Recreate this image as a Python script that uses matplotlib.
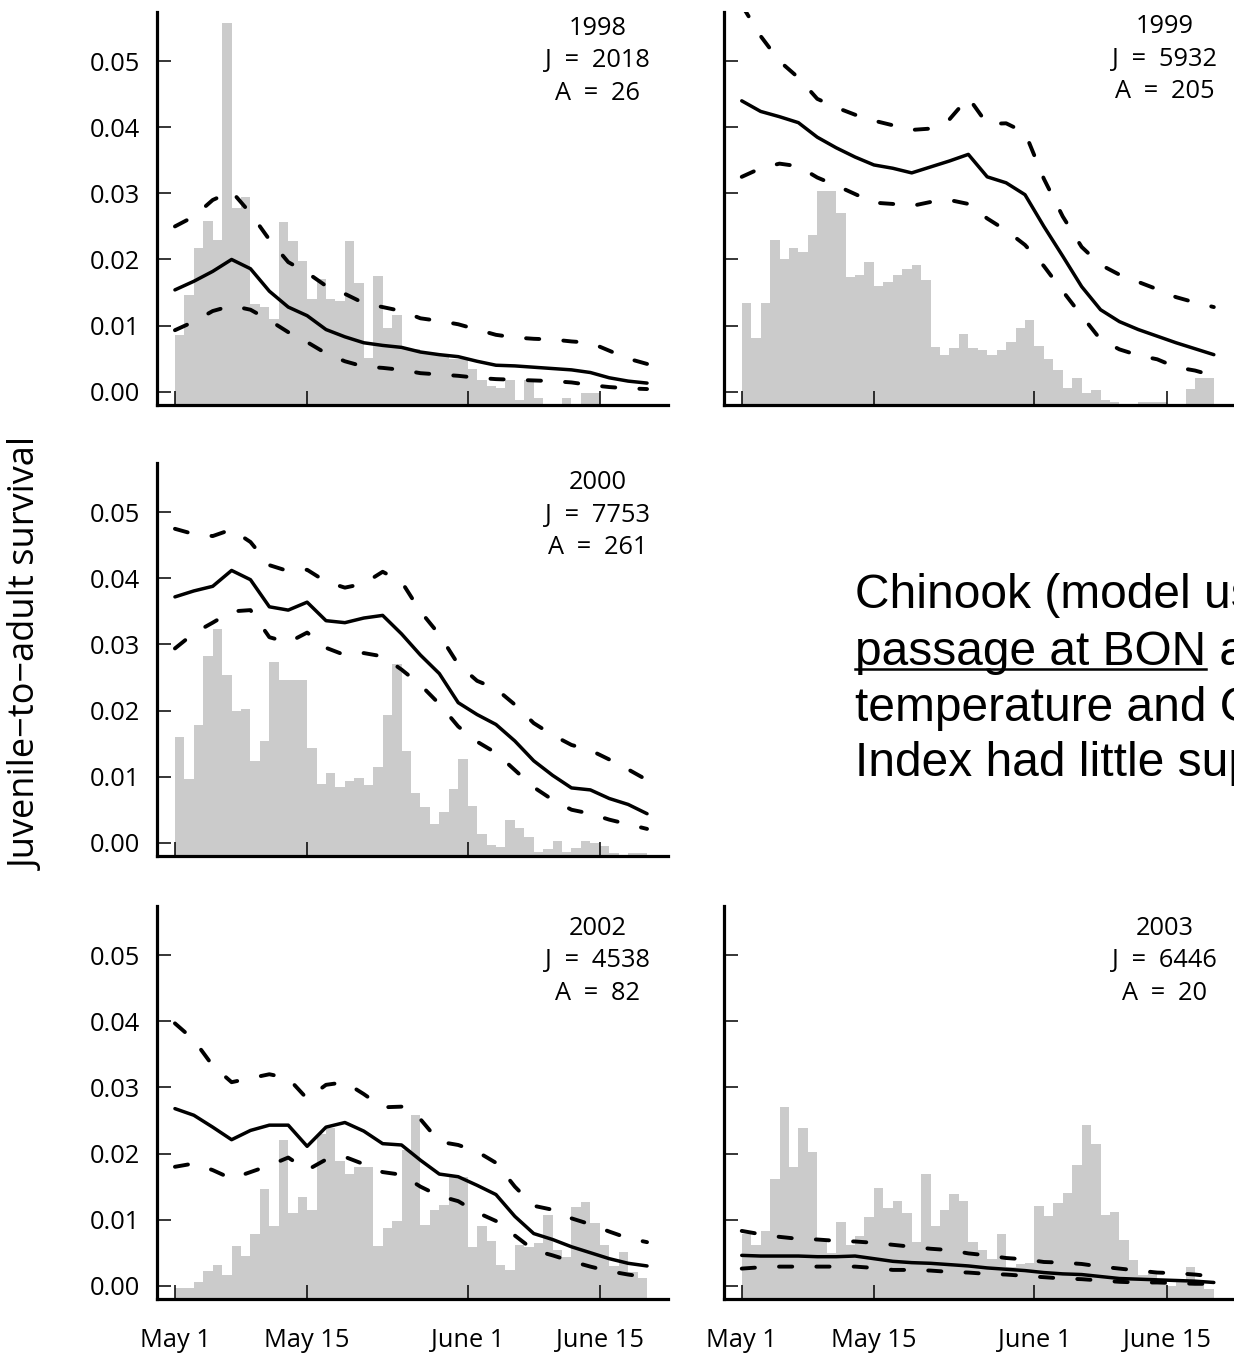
import numpy as np
import matplotlib.pyplot as plt
from matplotlib.lines import Line2D

plt.rcParams['font.family'] = ['Open Sans', 'DejaVu Sans']

# Panel labels
years = ['1998', '1999', '2000', '2002', '2003']
juv_counts = [2018, 5932, 7753, 4538, 6446]
adult_counts = [26, 205, 261, 82, 20]

# Axis ticks (days after May 1)
tick_days = [0, 14, 31, 45]
tick_labels = ['May 1', 'May 15', 'June 1', 'June 15']
y_ticks = [0.00, 0.01, 0.02, 0.03, 0.04, 0.05]

# Daily passage histogram (bar tops, survival units)
bars_1998 = [0.0086, 0.0146, 0.0218, 0.0258, 0.0230, 0.0558, 0.0278, 0.0295, 0.0133, 0.0128,
             0.0110, 0.0256, 0.0228, 0.0198, 0.0140, 0.0170, 0.0140, 0.0137, 0.0228, 0.0164,
             0.0051, 0.0175, 0.0096, 0.0116, 0.0065, 0.0065, 0.0060, 0.0058, 0.0055, 0.0050,
             0.0050, 0.0035, 0.0018, 0.0008, 0.0005, 0.0018, -0.0012, 0.0018, -0.0010, -0.0020,
             -0.0020, -0.0010, -0.0020, -0.0002, -0.0002]
bars_1999 = [0.0134, 0.0081, 0.0134, 0.0230, 0.0200, 0.0218, 0.0212, 0.0237, 0.0304, 0.0304,
             0.0271, 0.0173, 0.0176, 0.0196, 0.0160, 0.0166, 0.0176, 0.0186, 0.0192, 0.0169,
             0.0067, 0.0055, 0.0066, 0.0087, 0.0066, 0.0063, 0.0055, 0.0063, 0.0075, 0.0096,
             0.0108, 0.0069, 0.0050, 0.0033, 0.0005, 0.0021, -0.0002, 0.0003, -0.0012, -0.0015,
             -0.0020, -0.0020, -0.0015, -0.0015, -0.0015, -0.0020, -0.0020, 0.0004, 0.0021, 0.0021]
bars_2000 = [0.0160, 0.0097, 0.0178, 0.0283, 0.0324, 0.0254, 0.0200, 0.0202, 0.0124, 0.0154,
             0.0273, 0.0246, 0.0246, 0.0246, 0.0143, 0.0089, 0.0106, 0.0085, 0.0093, 0.0098,
             0.0087, 0.0115, 0.0194, 0.0270, 0.0139, 0.0075, 0.0054, 0.0028, 0.0046, 0.0081,
             0.0126, 0.0055, 0.0013, -0.0003, -0.0006, 0.0034, 0.0023, 0.0008, -0.0014, -0.0010,
             0.0003, -0.0014, -0.0008, 0.0002, -0.0001, -0.0005, -0.0016, -0.0019, -0.0015, -0.0015]
bars_2002 = [-0.0004, -0.0003, 0.0005, 0.0023, 0.0031, 0.0016, 0.0060, 0.0045, 0.0078, 0.0147,
             0.0090, 0.0221, 0.0110, 0.0135, 0.0114, 0.0230, 0.0238, 0.0189, 0.0169, 0.0180,
             0.0180, 0.0060, 0.0087, 0.0098, 0.0205, 0.0258, 0.0092, 0.0114, 0.0122, 0.0165,
             0.0165, 0.0059, 0.0090, 0.0067, 0.0031, 0.0024, 0.0061, 0.0059, 0.0064, 0.0107,
             0.0054, 0.0044, 0.0119, 0.0127, 0.0095, 0.0061, 0.0030, 0.0051, 0.0021, 0.0012]
bars_2003 = [0.0078, 0.0061, 0.0083, 0.0161, 0.0271, 0.0179, 0.0239, 0.0202, 0.0068, 0.0050,
             0.0096, 0.0061, 0.0075, 0.0104, 0.0148, 0.0118, 0.0128, 0.0110, 0.0066, 0.0169,
             0.0091, 0.0114, 0.0139, 0.0129, 0.0066, 0.0054, 0.0040, 0.0079, 0.0028, 0.0033,
             0.0035, 0.0121, 0.0105, 0.0125, 0.0141, 0.0182, 0.0243, 0.0215, 0.0107, 0.0112,
             0.0070, 0.0039, 0.0016, 0.0021, 0.0010, 0.0000, 0.0006, 0.0029, 0.0005, -0.0005]

# Survival estimate (solid) and 95% bounds (dashed), sampled every 2 days
line_days = [0, 2, 4, 6, 8, 10, 12, 14, 16, 18, 20, 22, 24, 26, 28, 30, 32, 34, 36, 38,
             40, 42, 44, 46, 48, 50]

mean_1998 = [0.0154, 0.0167, 0.0182, 0.0200, 0.0186, 0.0152, 0.0128, 0.0115, 0.0094, 0.0083,
             0.0074, 0.0070, 0.0067, 0.0060, 0.0056, 0.0053, 0.0046, 0.0040, 0.0039, 0.0037,
             0.0035, 0.0033, 0.0029, 0.0021, 0.0016, 0.0013]
upper_1998 = [0.0250, 0.0265, 0.0290, 0.0303, 0.0270, 0.0230, 0.0196, 0.0180, 0.0160, 0.0148,
              0.0134, 0.0128, 0.0122, 0.0111, 0.0107, 0.0102, 0.0094, 0.0086, 0.0082, 0.0080,
              0.0079, 0.0076, 0.0074, 0.0062, 0.0050, 0.0042]
lower_1998 = [0.0093, 0.0106, 0.0122, 0.0130, 0.0124, 0.0108, 0.0090, 0.0075, 0.0058, 0.0046,
              0.0038, 0.0036, 0.0033, 0.0028, 0.0026, 0.0024, 0.0021, 0.0019, 0.0018, 0.0017,
              0.0016, 0.0014, 0.0010, 0.0007, 0.0005, 0.0004]

mean_1999 = [0.0440, 0.0424, 0.0416, 0.0407, 0.0385, 0.0369, 0.0355, 0.0343, 0.0338, 0.0331,
             0.0340, 0.0349, 0.0359, 0.0325, 0.0316, 0.0298, 0.0250, 0.0205, 0.0159, 0.0124,
             0.0106, 0.0094, 0.0084, 0.0074, 0.0065, 0.0056]
upper_1999 = [0.0585, 0.0538, 0.0500, 0.0475, 0.0443, 0.0430, 0.0419, 0.0410, 0.0403, 0.0396,
              0.0398, 0.0412, 0.0445, 0.0405, 0.0406, 0.0392, 0.0322, 0.0265, 0.0219, 0.0192,
              0.0177, 0.0166, 0.0155, 0.0143, 0.0135, 0.0128]
lower_1999 = [0.0325, 0.0338, 0.0345, 0.0341, 0.0324, 0.0312, 0.0299, 0.0286, 0.0284, 0.0281,
              0.0287, 0.0290, 0.0284, 0.0262, 0.0244, 0.0222, 0.0190, 0.0152, 0.0115, 0.0079,
              0.0064, 0.0055, 0.0049, 0.0037, 0.0032, 0.0024]

mean_2000 = [0.0372, 0.0381, 0.0388, 0.0412, 0.0398, 0.0357, 0.0352, 0.0364, 0.0336, 0.0333,
             0.0340, 0.0344, 0.0316, 0.0284, 0.0256, 0.0212, 0.0194, 0.0179, 0.0154, 0.0124,
             0.0102, 0.0083, 0.0080, 0.0067, 0.0058, 0.0044]
upper_2000 = [0.0475, 0.0467, 0.0464, 0.0474, 0.0455, 0.0420, 0.0411, 0.0413, 0.0395, 0.0386,
              0.0392, 0.0410, 0.0395, 0.0350, 0.0315, 0.0270, 0.0245, 0.0233, 0.0209, 0.0181,
              0.0163, 0.0148, 0.0140, 0.0126, 0.0111, 0.0095]
lower_2000 = [0.0294, 0.0317, 0.0333, 0.0350, 0.0352, 0.0311, 0.0303, 0.0318, 0.0295, 0.0284,
              0.0287, 0.0282, 0.0262, 0.0239, 0.0210, 0.0176, 0.0153, 0.0136, 0.0110, 0.0084,
              0.0065, 0.0050, 0.0044, 0.0035, 0.0028, 0.0021]

mean_2002 = [0.0268, 0.0258, 0.0240, 0.0221, 0.0235, 0.0243, 0.0243, 0.0211, 0.0240, 0.0247,
             0.0234, 0.0215, 0.0213, 0.0190, 0.0169, 0.0165, 0.0152, 0.0138, 0.0105, 0.0079,
             0.0070, 0.0059, 0.0050, 0.0041, 0.0034, 0.0030]
upper_2002 = [0.0397, 0.0372, 0.0333, 0.0308, 0.0314, 0.0320, 0.0314, 0.0283, 0.0304, 0.0308,
              0.0290, 0.0270, 0.0271, 0.0252, 0.0218, 0.0213, 0.0203, 0.0186, 0.0150, 0.0121,
              0.0115, 0.0102, 0.0093, 0.0082, 0.0072, 0.0066]
lower_2002 = [0.0180, 0.0185, 0.0175, 0.0162, 0.0172, 0.0182, 0.0194, 0.0175, 0.0191, 0.0195,
              0.0184, 0.0172, 0.0168, 0.0150, 0.0136, 0.0128, 0.0111, 0.0098, 0.0076, 0.0054,
              0.0046, 0.0037, 0.0029, 0.0022, 0.0017, 0.0013]

mean_2003 = [0.0046, 0.0045, 0.0045, 0.0045, 0.0044, 0.0044, 0.0045, 0.0041, 0.0037, 0.0035,
             0.0034, 0.0032, 0.0030, 0.0027, 0.0025, 0.0023, 0.0020, 0.0018, 0.0017, 0.0014,
             0.0011, 0.0010, 0.0009, 0.0008, 0.0007, 0.0005]
upper_2003 = [0.0083, 0.0078, 0.0074, 0.0071, 0.0070, 0.0068, 0.0067, 0.0065, 0.0062, 0.0059,
              0.0056, 0.0054, 0.0049, 0.0046, 0.0042, 0.0040, 0.0036, 0.0035, 0.0033, 0.0029,
              0.0026, 0.0023, 0.0020, 0.0019, 0.0017, 0.0014]
lower_2003 = [0.0026, 0.0028, 0.0029, 0.0029, 0.0029, 0.0029, 0.0029, 0.0027, 0.0024, 0.0024,
              0.0023, 0.0021, 0.0020, 0.0018, 0.0017, 0.0015, 0.0013, 0.0011, 0.0010, 0.0008,
              0.0006, 0.0005, 0.0005, 0.0004, 0.0003, 0.0003]

note_lines = ['Chinook (model us', 'passage at BON a', 'temperature and C', 'Index had little sup']
note_underlined = 'passage at BON'

panels = [
    (bars_1998, mean_1998, upper_1998, lower_1998),
    (bars_1999, mean_1999, upper_1999, lower_1999),
    (bars_2000, mean_2000, upper_2000, lower_2000),
    (bars_2002, mean_2002, upper_2002, lower_2002),
    (bars_2003, mean_2003, upper_2003, lower_2003),
]

# Layout (pixels)
W, H = 1234, 1357
fig = plt.figure(figsize=(W / 100, H / 100), dpi=100)
col_left = [157, 723.8]
row_top = [11.6, 462.7, 905.7]
ax_w, ax_h = 510.8, 393.3
grid_pos = [(0, 0), (0, 1), (1, 0), (2, 0), (2, 1)]
text_top = [0.958, 0.962, 0.950, 0.943, 0.943]
ybot, ytop = -0.002, 0.0575
fs = 18.3
eq = '\u2002=\u2002'

for i, (bars, mean, upper, lower) in enumerate(panels):
    r, c = grid_pos[i]
    ax = fig.add_axes([col_left[c] / W, 1 - (row_top[r] + ax_h) / H, ax_w / W, ax_h / H])

    tops = np.array(bars)
    ax.bar(np.arange(len(tops)), tops - ybot, bottom=ybot, width=1.0, align='edge',
           color='#cbcbcb', linewidth=0, zorder=1)
    ax.plot(line_days, mean, color='black', lw=2.5, solid_joinstyle='round',
            solid_capstyle='round', zorder=3)
    for bound in (upper, lower):
        ax.plot(line_days, bound, color='black', lw=2.8, linestyle=(0, (3.4, 6.2)),
                dash_capstyle='round', zorder=3)

    ax.set_xlim(-1.9, 52.2)
    ax.set_ylim(ybot, ytop)
    for s in ('top', 'right'):
        ax.spines[s].set_visible(False)
    for s in ('left', 'bottom'):
        ax.spines[s].set_linewidth(2.3)
    ax.set_xticks(tick_days)
    ax.set_yticks(y_ticks)
    ax.set_yticklabels([f'{v:.2f}' for v in y_ticks])
    ax.set_xticklabels(tick_labels)
    ax.tick_params(direction='in', length=10, width=1.1, labelsize=fs)
    ax.tick_params(axis='y', pad=12, labelleft=(c == 0))
    ax.tick_params(axis='x', pad=21, labelbottom=(r == 2))

    ty = text_top[i]
    ax.text(0.863, ty, years[i], transform=ax.transAxes, ha='center', va='center', fontsize=fs)
    ax.text(0.863, ty - 0.083, f'J{eq}{juv_counts[i]}', transform=ax.transAxes,
            ha='center', va='center', fontsize=fs)
    ax.text(0.863, ty - 0.166, f'A{eq}{adult_counts[i]}', transform=ax.transAxes,
            ha='center', va='center', fontsize=fs)

fig.text(28 / W, 1 - 654 / H, 'Juvenile\u2212to\u2212adult survival', rotation=90,
         ha='center', va='center', fontsize=26)

# Slide note (clipped at the right edge, as in the source slide)
note_x = 855 / W
note_fs = 34.5
baselines = [608, 665, 721, 776]
for txt, b in zip(note_lines, baselines):
    fig.text(note_x, 1 - b / H, txt, ha='left', va='baseline', fontsize=note_fs,
             family=['Liberation Sans', 'DejaVu Sans'])

fig.canvas.draw()
probe = fig.text(note_x, 1 - baselines[1] / H, note_underlined, ha='left', va='baseline',
                 fontsize=note_fs, family=['Liberation Sans', 'DejaVu Sans'], alpha=0)
bb = probe.get_window_extent(renderer=fig.canvas.get_renderer())
uy = 1 - (baselines[1] + 4) / H
fig.add_artist(Line2D([bb.x0 / W, bb.x1 / W], [uy, uy], transform=fig.transFigure,
                      color='black', lw=1.8))
probe.remove()

fig.savefig('out.png', dpi=100)
